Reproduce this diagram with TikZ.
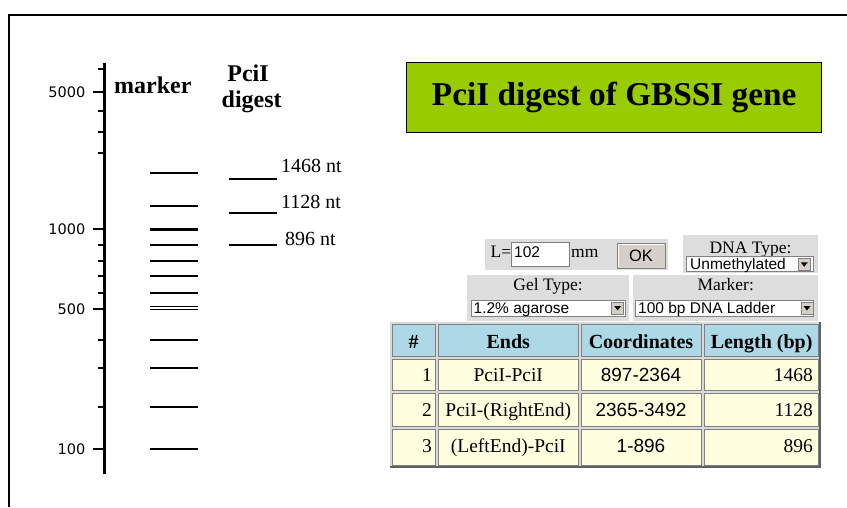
\documentclass[tikz,border=0pt]{standalone}
\usepackage{fontspec}
\setmainfont{Liberation Serif}
\newfontfamily\sansweb{Liberation Sans}
\newfontfamily\sansje{DejaVu Sans}
\usetikzlibrary{positioning}

\definecolor{verdetit}{HTML}{99CC00}
\definecolor{grispanel}{HTML}{DDDDDD}
\definecolor{grisboton}{HTML}{D4D0C8}
\definecolor{celeste}{HTML}{ADD8E6}
\definecolor{crema}{HTML}{FFFFE0}
\definecolor{grisborde}{HTML}{808080}

\newcommand{\tam}[1]{\fontsize{#1}{#1}\selectfont}

\begin{document}
\begin{tikzpicture}[x=1pt,y=-1pt,
    banda/.style={line width=2pt},
    rayita/.style={line width=1.3pt},
    numeje/.style={anchor=base east,inner sep=0pt,font=\sansje\tam{14.5}},
    negrita/.style={anchor=base west,inner sep=0pt,font=\bfseries\tam{24}},
    etqbanda/.style={anchor=base west,inner sep=0pt,font=\tam{20}},
    titulo/.style={draw=black,line width=0.8pt,fill=verdetit,minimum width=415pt,
        minimum height=70pt,font=\bfseries\tam{33.3}},
    hundido/.style={fill=white,draw=grisborde,line width=0.8pt},
    rotulo/.style={anchor=base,inner sep=0pt,font=\tam{17.5}},
    txtsans/.style={anchor=base west,inner sep=0pt,font=\sansweb\tam{15.5}},
    cabecera/.style={anchor=base,inner sep=0pt,font=\bfseries\tam{20}},
    celda/.style={anchor=base,inner sep=0pt,font=\tam{19.5}}]

    \useasboundingbox (0,0) rectangle (847,507);

    % Marco
    \draw[line width=2pt] (9,507) -- (9,15) -- (847,15);

    % Eje
    \draw[line width=3pt] (104,62.7) -- (104,474);
    \foreach \y in {69,111,132,153,245,261,276,293,340,368,407}
        \draw[rayita] (98.3,\y) -- (104,\y);
    \foreach \y/\t in {92/5000,229/1000,309/500,449/100} {
        \draw[rayita] (93.3,\y) -- (104,\y);
        \node[numeje] (n\t) at (85.5,\y+5.3) {\t};
    }

    % Carriles
    \node[negrita] (marcador) at (114,93.3) {marker};
    \node[negrita,anchor=base] (pci) at (248,81.7) {PciI};
    \node[negrita,anchor=base] (digesto) at (251.7,107.7) {digest};

    % Bandas del marcador
    \foreach \y in {173,206,245,261,276,293,340,368,407,449}
        \draw[banda] (150,\y) -- (198,\y);
    \draw[line width=1.2pt] (150,306.4) -- (198,306.4);
    \draw[line width=1.2pt] (150,309.6) -- (198,309.6);
    \draw[line width=3.5pt] (150,229.5) -- (198,229.5);

    % Bandas del digesto
    \foreach \y/\b/\t/\xl in {179/172.7/1468/281,213/208.3/1128/281,245/245/896/285} {
        \draw[banda] (229,\y) -- (276.7,\y);
        \node[etqbanda] (d\t) at (\xl,\b) {\t\ nt};
    }

    % Titulo
    \node[titulo] (titulo) at (614.2,97.3) {PciI digest of GBSSI gene};

    % Formulario
    \fill[grispanel] (485,239) rectangle (668,270);
    \draw[hundido] (511.7,242.3) rectangle (569,266.7);
    \node[rotulo,anchor=base east] (ele) at (511.5,257) {L=};
    \node[txtsans] (largo) at (514,257) {102};
    \node[rotulo,anchor=base west] (mm) at (571,257) {mm};
    \filldraw[fill=grisboton,draw=grisborde,line width=0.8pt] (617,243) rectangle (665,268);
    \draw[white,line width=1pt] (618,267) -- (618,244) -- (664,244);
    \node[font=\sansweb\tam{16.5}] (ok) at (641,255.5) {OK};

    \fill[grispanel] (682.7,235) rectangle (818.3,273);
    \node[rotulo] (tipodna) at (750.5,253.3) {DNA Type:};
    \draw[hundido] (686,256.7) rectangle (813,271.7);
    \node[txtsans] (unmet) at (690,269.5) {Unmethylated};

    \fill[grispanel] (467,275) rectangle (629.3,321);
    \node[rotulo] (tipogel) at (548,290) {Gel Type:};
    \draw[hundido] (471.7,300) rectangle (625,316.7);
    \node[txtsans] (agarosa) at (473.5,313.5) {1.2\% agarose};

    \fill[grispanel] (633,275) rectangle (818.3,321);
    \node[rotulo] (tipomarc) at (725.7,290) {Marker:};
    \draw[hundido] (635,300) rectangle (813.3,316.7);
    \node[txtsans] (escalera) at (638,313.5) {100 bp DNA Ladder};

    \foreach \xa/\ya in {798.3/258.3,611.7/302,801/302} {
        \filldraw[fill=grisboton,draw=grisborde,line width=0.6pt] (\xa,\ya) rectangle ++(12,12);
        \fill (\xa+2.5,\ya+4) -- ++(7,0) -- ++(-3.5,4.5) -- cycle;
    }

    % Tabla
    \fill[gray!30] (390,322.3) rectangle (821,468.3);
    \draw[gray!75!black,line width=2pt] (390,467.3) -- (820,467.3) -- (820,322.3);
    \foreach \xa/\xb in {392/435.2,438.2/578.5,581.5/701.8,704.8/818.3} {
        \filldraw[fill=celeste,draw=grisborde,line width=0.8pt] (\xa,324.3) rectangle (\xb,356.8);
        \foreach \ya/\yb in {359.8/390.8,393.8/426.8,429.8/465}
            \filldraw[fill=crema,draw=grisborde,line width=0.8pt] (\xa,\ya) rectangle (\xb,\yb);
    }
    \node[cabecera] (hnum) at (413.6,348.5) {\#};
    \node[cabecera] (hext) at (508.3,348.5) {Ends};
    \node[cabecera] (hcoord) at (641,348.5) {Coordinates};
    \node[cabecera] (hlong) at (761.6,348.5) {Length (bp)};
    \foreach \n/\e/\c/\l/\b in {1/PciI-PciI/897-2364/1468/381.7,
            2/{PciI-(RightEnd)}/2365-3492/1128/416.7,
            3/{(LeftEnd)-PciI}/1-896/896/452.7} {
        \node[celda,anchor=base east] (f\n) at (432,\b) {\n};
        \node[celda] (e\n) at (508.3,\b) {\e};
        \node[celda,font=\sansweb\tam{19}] (c\n) at (641,\b) {\c};
        \node[celda,anchor=base east] (l\n) at (813,\b) {\l};
    }

\end{tikzpicture}
\end{document}
